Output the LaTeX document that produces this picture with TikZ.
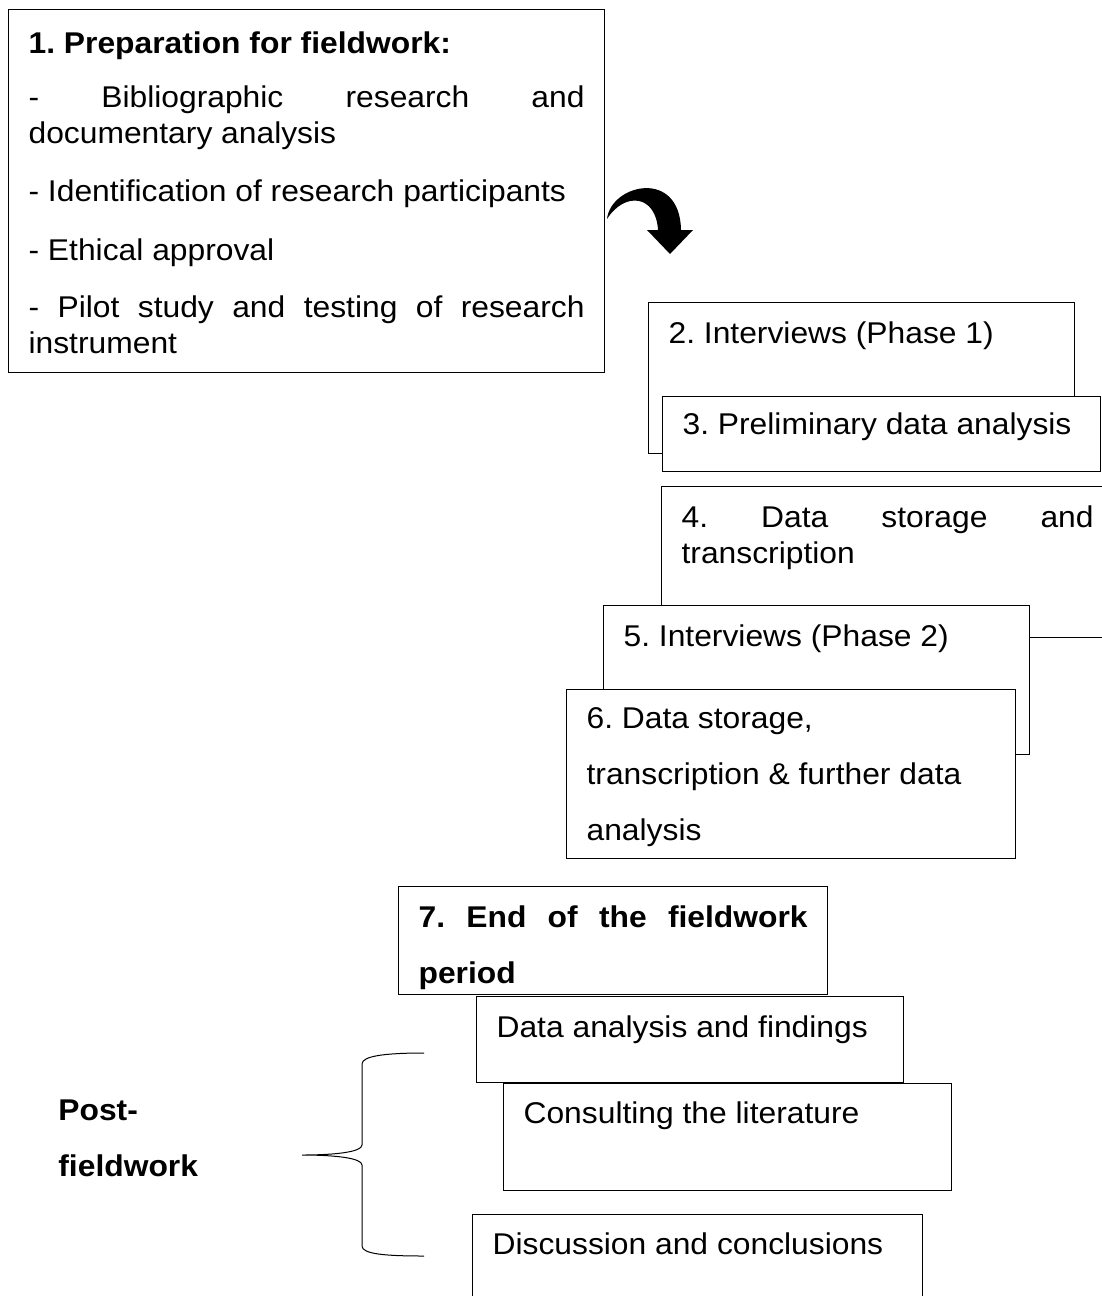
\documentclass[tikz,border=0pt]{standalone}
\usepackage{fontspec}
\setmainfont{Liberation Sans}[FakeStretch=1.06]
\frenchspacing
\usetikzlibrary{positioning}

\begin{document}
\begin{tikzpicture}[x=0.5pt, y=-0.5pt,
  stage/.style={draw=black, fill=white, line width=0.6pt, anchor=north west,
    inner xsep=10pt, inner ysep=0pt, align=justify,
    font=\fontsize{15}{18}\selectfont},
  spaced/.style={font=\fontsize{15}{28}\selectfont}]
\useasboundingbox (0,0) rectangle (1102,1296);
\clip (0,0) rectangle (1102,1296);

% preparation
\node[stage, text width=278pt, text height=22pt, text depth=159.5pt] (prep) at (8,9)
  {\textbf{1. Preparation for fieldwork:}\\[9pt]
   - Bibliographic research and\linebreak documentary analysis\\[11pt]
   - Identification of research participants\\[11.5pt]
   - Ethical approval\\[10.5pt]
   - Pilot study and testing of research\linebreak instrument};

% curved arrow
\fill (607,219) .. controls (611,184) and (680,168) .. (681,230) -- (693,230)
  -- (670,254) -- (647,230) -- (658,230) .. controls (656,195) and (625,191) .. (607,219) -- cycle;

% fieldwork
\node[stage, text width=193pt, text height=20.5pt, text depth=55pt] (interviewsA) at (648,302)
  {2. Interviews (Phase 1)};
\node[stage, text width=199pt, text height=19pt, text depth=18.5pt] (prelim) at (662,396)
  {3. Preliminary data analysis};
\node[stage, text width=206pt, text height=20.5pt, text depth=55pt] (storage) at (661,486)
  {4. Data storage and\linebreak transcription};
\node[stage, text width=193pt, text height=20.5pt, text depth=54pt] (interviewsB) at (603,605)
  {5. Interviews (Phase 2)};
\node[stage, spaced, text width=204.5pt, text height=19.5pt, text depth=65pt] (further) at (566,689)
  {6. Data storage,\\transcription \& further data\\analysis};
\node[stage, spaced, text width=194.5pt, text height=20.5pt, text depth=33.5pt] (endwork) at (398,886)
  {\bfseries 7. End of the fieldwork\linebreak period};

% post-fieldwork
\node[stage, text width=193.5pt, text height=20.5pt, text depth=22.5pt] (findings) at (476,996)
  {Data analysis and findings};
\node[stage, text width=204pt, text height=20pt, text depth=33.5pt] (literature) at (503,1083)
  {Consulting the literature};
\node[stage, text width=205pt, text height=20pt, text depth=33pt] (discussion) at (472,1214)
  {Discussion and conclusions};

\node[spaced, anchor=north west, inner sep=0pt, align=left, text width=80pt, text height=12pt,
  font=\bfseries\fontsize{15}{28}\selectfont] (post) at (58,1096) {Post-\\fieldwork};

\draw[line width=0.5pt] (424,1053) .. controls (385,1053) and (362,1056) .. (362,1064) -- (362,1145)
  .. controls (362,1152) and (335,1155) .. (302,1155)
  .. controls (335,1155) and (362,1158) .. (362,1165) -- (362,1246)
  .. controls (362,1254) and (385,1256) .. (424,1256);
\end{tikzpicture}
\end{document}
